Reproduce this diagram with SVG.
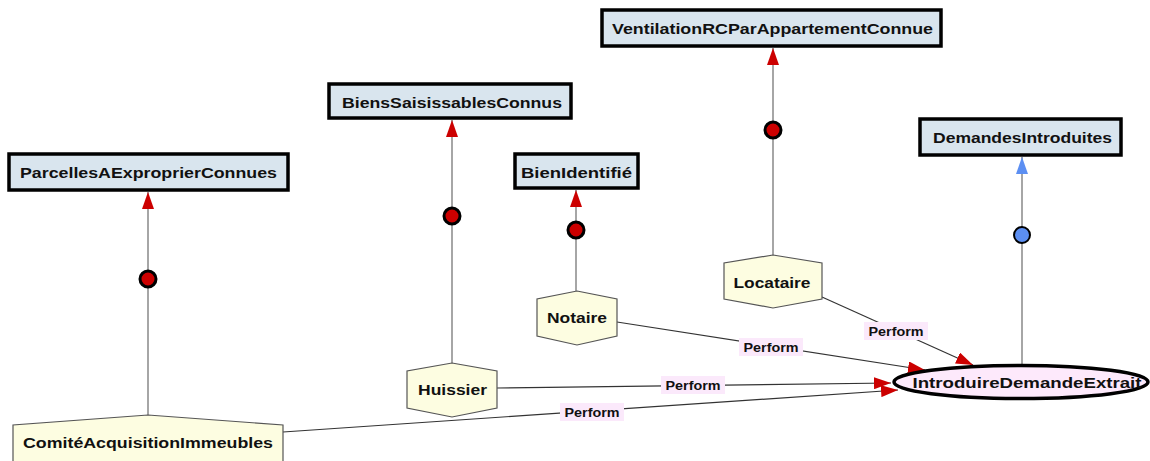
<svg xmlns="http://www.w3.org/2000/svg" width="1150" height="461" viewBox="0 0 1150 461">
  <style>
    .goal rect { fill: #d9e5ee; stroke: #000; stroke-width: 3.5; }
    .agent polygon { fill: #fdfde1; stroke: #555; stroke-width: 1.2; }
    .task ellipse { fill: #fde9fb; stroke: #000; stroke-width: 3.5; }
    text { font-family: "Liberation Sans", Arial, sans-serif; font-weight: bold; fill: #111; }
    .lbl { font-size: 15px; text-anchor: middle; }
    .plbl { font-size: 12px; text-anchor: middle; }
    .pbg { fill: #fbe9fb; }
    .link { stroke: #888; stroke-width: 1.5; fill: none; }
    .perf { stroke: #333; stroke-width: 1.2; fill: none; }
    .dotr { fill: #cc0000; stroke: #000; stroke-width: 3; }
    .dotb { fill: #5c8ff2; stroke: #000; stroke-width: 2; }
  </style>
  <defs>
    <marker id="arrRed" viewBox="0 0 17 12" refX="17" refY="6" markerWidth="17" markerHeight="12" markerUnits="userSpaceOnUse" orient="auto">
      <path d="M0,0 L17,6 L0,12 Z" fill="#cc0000"/>
    </marker>
    <marker id="arrBlue" viewBox="0 0 17 12" refX="17" refY="6" markerWidth="17" markerHeight="12" markerUnits="userSpaceOnUse" orient="auto">
      <path d="M0,0 L17,6 L0,12 Z" fill="#5c8ff2"/>
    </marker>
  </defs>

  <rect width="1150" height="461" fill="#fff"/>

  <!-- connectors -->
  <g id="connectors">
    <!-- contribution links from actors to goals -->
    <line class="link" x1="148" y1="415" x2="148" y2="192" marker-end="url(#arrRed)"/>
    <circle class="dotr" cx="148" cy="279" r="8"/>
    <line class="link" x1="452" y1="363" x2="452" y2="120" marker-end="url(#arrRed)"/>
    <circle class="dotr" cx="452" cy="216" r="8"/>
    <line class="link" x1="576" y1="291" x2="576" y2="190" marker-end="url(#arrRed)"/>
    <circle class="dotr" cx="576" cy="230" r="8"/>
    <line class="link" x1="773" y1="255" x2="773" y2="48" marker-end="url(#arrRed)"/>
    <circle class="dotr" cx="773" cy="130" r="8"/>
    <line class="link" x1="1022" y1="365" x2="1022" y2="157" marker-end="url(#arrBlue)"/>
    <circle class="dotb" cx="1022" cy="235" r="8"/>

    <!-- Perform links -->
    <line class="perf" x1="617" y1="322" x2="925" y2="370" marker-end="url(#arrRed)"/>
    <line class="perf" x1="822" y1="297" x2="973" y2="365" marker-end="url(#arrRed)"/>
    <line class="perf" x1="497" y1="388" x2="891" y2="383" marker-end="url(#arrRed)"/>
    <line class="perf" x1="283" y1="432" x2="898" y2="390" marker-end="url(#arrRed)"/>

    <rect class="pbg" x="739" y="338" width="64" height="18"/>
    <text class="plbl" x="771" y="351.5" textLength="55" lengthAdjust="spacingAndGlyphs">Perform</text>
    <rect class="pbg" x="864" y="322" width="64" height="18"/>
    <text class="plbl" x="896" y="335.5" textLength="55" lengthAdjust="spacingAndGlyphs">Perform</text>
    <rect class="pbg" x="661" y="376" width="64" height="18"/>
    <text class="plbl" x="693" y="389.5" textLength="55" lengthAdjust="spacingAndGlyphs">Perform</text>
    <rect class="pbg" x="560" y="403" width="64" height="18"/>
    <text class="plbl" x="592" y="416.5" textLength="55" lengthAdjust="spacingAndGlyphs">Perform</text>
  </g>

  <!-- goals -->
  <g id="ParcellesAExproprierConnues" class="goal">
    <rect x="9" y="154" width="279" height="36"/>
    <text class="lbl" x="148.5" y="177.5" textLength="257" lengthAdjust="spacingAndGlyphs">ParcellesAExproprierConnues</text>
  </g>
  <g id="BiensSaisissablesConnus" class="goal">
    <rect x="329" y="84" width="242" height="34"/>
    <text class="lbl" x="452" y="107.5" textLength="220" lengthAdjust="spacingAndGlyphs">BiensSaisissablesConnus</text>
  </g>
  <g id="BienIdentifie" class="goal">
    <rect x="515" y="154" width="123" height="34"/>
    <text class="lbl" x="576.5" y="177.5" textLength="111" lengthAdjust="spacingAndGlyphs">BienIdentifié</text>
  </g>
  <g id="VentilationRCParAppartementConnue" class="goal">
    <rect x="602" y="10" width="339" height="36"/>
    <text class="lbl" x="772.5" y="34" textLength="321" lengthAdjust="spacingAndGlyphs">VentilationRCParAppartementConnue</text>
  </g>
  <g id="DemandesIntroduites" class="goal">
    <rect x="920" y="119" width="201" height="36"/>
    <text class="lbl" x="1022.5" y="142.5" textLength="179" lengthAdjust="spacingAndGlyphs">DemandesIntroduites</text>
  </g>

  <!-- task -->
  <g id="IntroduireDemandeExtrait" class="task">
    <ellipse cx="1021" cy="382" rx="127" ry="16.5"/>
    <text class="lbl" x="1027" y="388" textLength="229" lengthAdjust="spacingAndGlyphs">IntroduireDemandeExtrait</text>
  </g>

  <!-- actors -->
  <g id="Locataire" class="agent">
    <polygon points="773,255 822,263 822,299 773,308 724,299 724,263"/>
    <text class="lbl" x="772" y="288" textLength="77" lengthAdjust="spacingAndGlyphs">Locataire</text>
  </g>
  <g id="Notaire" class="agent">
    <polygon points="577,291 617,299 617,336 577,345 537,336 537,299"/>
    <text class="lbl" x="577" y="323" textLength="60" lengthAdjust="spacingAndGlyphs">Notaire</text>
  </g>
  <g id="Huissier" class="agent">
    <polygon points="452,363 497,371 497,408 452,417 407,408 407,371"/>
    <text class="lbl" x="452.5" y="395" textLength="69" lengthAdjust="spacingAndGlyphs">Huissier</text>
  </g>
  <g id="ComiteAcquisitionImmeubles" class="agent">
    <polygon points="148,415 283,425 283,470 148,480 13,470 13,425"/>
    <text class="lbl" x="148" y="448" textLength="250" lengthAdjust="spacingAndGlyphs">ComitéAcquisitionImmeubles</text>
  </g>
</svg>
